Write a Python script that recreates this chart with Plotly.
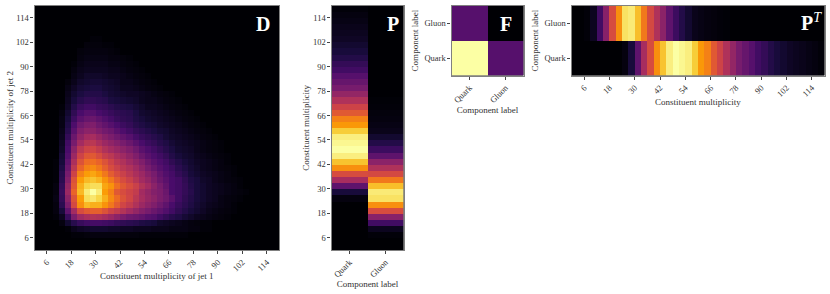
import plotly.graph_objects as go

W, H = 830, 294
n_bins = 40
bin_centers = [1.5 + 3 * i for i in range(n_bins)]
mult_ticks = [6, 18, 30, 42, 54, 66, 78, 90, 102, 114]
comp_labels = ["Quark", "Gluon"]

# D matrix: rows from multiplicity bin 0 upward, columns from bin 0; blanks at the end are zero
D_rows = [
 [],
 [],
 [0,0,0,0,0,0,.01,.01,.015,.02,.02,.02,.02,.02,.015,.015,.015,.01,.01,.01,.01,.01,.01,.01,.01],
 [0,0,0,0,0,.01,.04,.06,.07,.08,.08,.08,.07,.07,.06,.06,.05,.05,.05,.04,.04,.04,.03,.03,.03,.02,.02,.01,.01],
 [0,0,0,0,.02,.08,.14,.18,.2,.21,.21,.2,.19,.17,.16,.15,.14,.12,.11,.1,.07,.06,.05,.04,.03,.02,.015,.01,.01],
 [0,0,0,.01,.05,.18,.34,.43,.46,.48,.47,.45,.42,.38,.34,.31,.3,.28,.25,.24,.2,.17,.14,.12,.09,.07,.05,.04,.03,.02,.015,.01],
 [0,0,0,.02,.1,.27,.44,.58,.62,.64,.64,.6,.55,.52,.48,.44,.4,.36,.33,.3,.27,.24,.2,.16,.13,.1,.08,.06,.04,.03,.02,.015,.01],
 [0,0,0,.02,.15,.34,.57,.75,.84,.82,.82,.76,.7,.63,.56,.52,.47,.42,.38,.35,.31,.27,.22,.18,.15,.12,.09,.07,.05,.04,.03,.02,.01],
 [0,0,0,.03,.17,.38,.6,.78,.92,.94,.9,.82,.74,.67,.6,.56,.5,.45,.41,.38,.34,.31,.26,.2,.16,.13,.1,.08,.06,.05,.03,.02,.015,.01],
 [0,0,0,.02,.18,.42,.65,.84,.95,1.0,.95,.78,.72,.62,.58,.55,.52,.44,.4,.36,.34,.3,.22,.2,.17,.14,.1,.08,.06,.05,.04,.03,.02,.015,.01],
 [0,0,0,.02,.17,.4,.62,.82,.9,.92,.92,.8,.76,.68,.62,.58,.54,.48,.44,.38,.33,.28,.22,.2,.17,.13,.1,.08,.06,.05,.04,.03,.02,.01],
 [0,0,0,.01,.15,.36,.6,.78,.84,.86,.83,.76,.7,.63,.58,.54,.49,.44,.4,.35,.3,.26,.22,.2,.16,.12,.1,.07,.06,.04,.03,.02,.015,.01],
 [0,0,0,.01,.14,.33,.55,.72,.78,.8,.76,.7,.63,.58,.54,.5,.46,.42,.37,.33,.28,.24,.21,.17,.14,.1,.08,.06,.05,.04,.03,.02,.01],
 [0,0,0,.01,.12,.3,.5,.65,.72,.74,.7,.64,.58,.54,.5,.47,.43,.38,.33,.29,.25,.22,.19,.15,.12,.09,.07,.05,.04,.03,.02,.015,.01],
 [0,0,0,.01,.1,.27,.46,.6,.67,.68,.65,.6,.55,.5,.47,.43,.39,.35,.3,.26,.23,.2,.16,.13,.1,.08,.06,.05,.04,.03,.02,.01],
 [0,0,0,0,.09,.24,.42,.55,.61,.62,.58,.53,.5,.46,.43,.39,.35,.3,.26,.23,.2,.17,.13,.1,.08,.07,.05,.04,.03,.02,.015,.01],
 [0,0,0,0,.07,.22,.38,.5,.55,.56,.52,.47,.44,.41,.38,.35,.31,.26,.23,.2,.17,.14,.11,.08,.07,.06,.04,.03,.02,.015,.01],
 [0,0,0,0,.06,.2,.33,.44,.49,.5,.46,.42,.39,.36,.33,.3,.26,.22,.19,.17,.14,.12,.09,.07,.06,.05,.04,.03,.02,.015,.01],
 [0,0,0,0,.05,.17,.3,.39,.44,.45,.41,.37,.34,.31,.28,.25,.21,.18,.16,.14,.12,.09,.07,.06,.05,.04,.03,.02,.015,.01],
 [0,0,0,0,.04,.14,.26,.35,.38,.38,.35,.32,.3,.26,.23,.2,.17,.15,.13,.11,.09,.08,.06,.05,.04,.03,.02,.015,.01],
 [0,0,0,0,.03,.12,.23,.31,.34,.35,.31,.28,.25,.22,.19,.17,.14,.12,.1,.09,.07,.06,.05,.04,.03,.02,.015,.01],
 [0,0,0,0,.03,.1,.19,.26,.29,.3,.27,.24,.21,.18,.16,.15,.12,.1,.08,.07,.06,.05,.04,.03,.02,.015,.01],
 [0,0,0,0,.02,.08,.16,.22,.25,.25,.22,.2,.18,.16,.15,.14,.11,.08,.07,.06,.05,.04,.03,.02,.015,.01],
 [0,0,0,0,.01,.06,.13,.18,.2,.2,.18,.17,.15,.13,.12,.11,.09,.07,.05,.05,.04,.03,.02,.015,.01],
 [0,0,0,0,0,.05,.1,.14,.16,.16,.15,.14,.11,.1,.09,.08,.07,.05,.04,.04,.03,.02,.015,.01],
 [0,0,0,0,0,.04,.08,.11,.13,.13,.13,.11,.09,.08,.07,.06,.06,.05,.04,.03,.02,.015,.01],
 [0,0,0,0,0,.03,.06,.09,.1,.11,.11,.09,.08,.07,.05,.05,.04,.03,.02,.015,.01],
 [0,0,0,0,0,.015,.04,.07,.08,.09,.09,.08,.07,.06,.04,.04,.03,.02,.015,.01],
 [0,0,0,0,0,0,.03,.05,.07,.07,.07,.06,.05,.05,.04,.03,.02,.015,.01],
 [0,0,0,0,0,0,.02,.04,.05,.05,.05,.05,.04,.04,.03,.02,.015,.01],
 [0,0,0,0,0,0,.01,.03,.04,.04,.04,.04,.03,.03,.02,.015,.01],
 [0,0,0,0,0,0,0,.02,.03,.03,.03,.03,.02,.02,.015,.01],
 [0,0,0,0,0,0,0,.015,.02,.02,.02,.02,.015,.01],
 [0,0,0,0,0,0,0,0,.015,.015,.015,.01,.01],
 [0,0,0,0,0,0,0,0,0,.01,.01],
 [], [], [], [], [],
]

P_quark = [0,0,0,0,0,0,0,0,.02,.1,.27,.45,.58,.75,.86,.96,1.0,.98,.96,.88,.77,.72,.62,.55,.47,.4,.33,.29,.25,.2,.17,.13,.1,.08,.06,.05,.04,.03,.02,.01]
P_gluon = [0,0,.01,.05,.2,.37,.58,.75,.93,.95,.85,.7,.57,.47,.38,.27,.19,.13,.08,.04,.03,.02,.015,.01,.005,0,0,0,0,0,0,0,0,0,0,0,0,0,0,0]
F_quark_row = [1.0, 0.25]
F_gluon_row = [0.25, 0.0]

D = [r + [0] * (n_bins - len(r)) for r in D_rows]
P = [[q, g] for q, g in zip(P_quark, P_gluon)]
PT = [P_quark, P_gluon]
F = [F_quark_row, F_gluon_row]

FONT = "Liberation Serif"
TXT = "#333333"
SPINE = "#808080"

def dom_x(a, b): return [a / W, b / W]
def dom_y(top, bot): return [1 - bot / H, 1 - top / H]

def hm(x, y, z, n):
    return go.Heatmap(x=x, y=y, z=z, zmin=0, zmax=1, colorscale="Inferno", showscale=False,
                      xaxis=f"x{n}", yaxis=f"y{n}", hoverongaps=False)

fig = go.Figure()
fig.add_trace(hm(bin_centers, bin_centers, D, ""))
fig.add_trace(hm(comp_labels, bin_centers, P, "2"))
fig.add_trace(hm(comp_labels, comp_labels, F, "3"))
fig.add_trace(hm(bin_centers, comp_labels, PT, "4"))

def ax(domain, title, standoff, angle=0, **kw):
    return dict(domain=domain, title=dict(text=title, standoff=standoff, font=dict(size=9, family=FONT, color=TXT)),
                tickfont=dict(size=8.5, family=FONT, color=TXT), tickangle=angle,
                ticks="outside", ticklen=3, tickwidth=0.8, tickcolor="#444444",
                showgrid=False, zeroline=False, showline=True, linecolor=SPINE, linewidth=1.2, mirror=True,
                automargin=False, **kw)

mult = dict(range=[0, 120], tickmode="array", tickvals=mult_ticks, ticktext=[str(t) for t in mult_ticks])
comp = dict(range=[-0.5, 1.5], tickmode="array", tickvals=comp_labels, ticktext=comp_labels, type="category")

fig.update_layout(
    width=W, height=H, margin=dict(l=0, r=0, t=0, b=0),
    paper_bgcolor="white", plot_bgcolor="black", font=dict(family=FONT, size=8.5, color=TXT),
    xaxis =ax(dom_x(34.5, 279), "Constituent multiplicity of jet 1", 0, -45, anchor="y",  **mult),
    yaxis =ax(dom_y(5.5, 250), "Constituent multiplicity of jet 2", 0, 0, anchor="x",  **mult),
    xaxis2=ax(dom_x(331.5, 403.5), "Component label", 2, -45, anchor="y2", **comp),
    yaxis2=ax(dom_y(5.5, 250), "Constituent multiplicity", 1, 0, anchor="x2", **mult),
    xaxis3=ax(dom_x(451.5, 523.5), "Component label", 1, -45, anchor="y3", **comp),
    yaxis3=ax(dom_y(5.5, 75.5), "Component label", 4, 0, anchor="x3", **comp),
    xaxis4=ax(dom_x(571.5, 824.5), "Constituent multiplicity", 0, -45, anchor="y4", **mult),
    yaxis4=ax(dom_y(5.5, 75.5), "Component label", 4, 0, anchor="x4", **comp),
)

def letter(text, px, py):
    fig.add_annotation(text=text, x=px / W, y=1 - py / H, xref="paper", yref="paper", showarrow=False,
                       xanchor="center", yanchor="middle", font=dict(size=20, family=FONT, color="white"))

letter("<b>D</b>", 263, 24)
letter("<b>P</b>", 393, 24)
letter("<b>F</b>", 505.5, 24)
letter("<b>P</b><sup><i>T</i></sup>", 811, 22)

fig.write_html("out.html", config={"displayModeBar": False},
               post_script="document.body.style.margin='0';document.body.style.overflow='hidden';")
